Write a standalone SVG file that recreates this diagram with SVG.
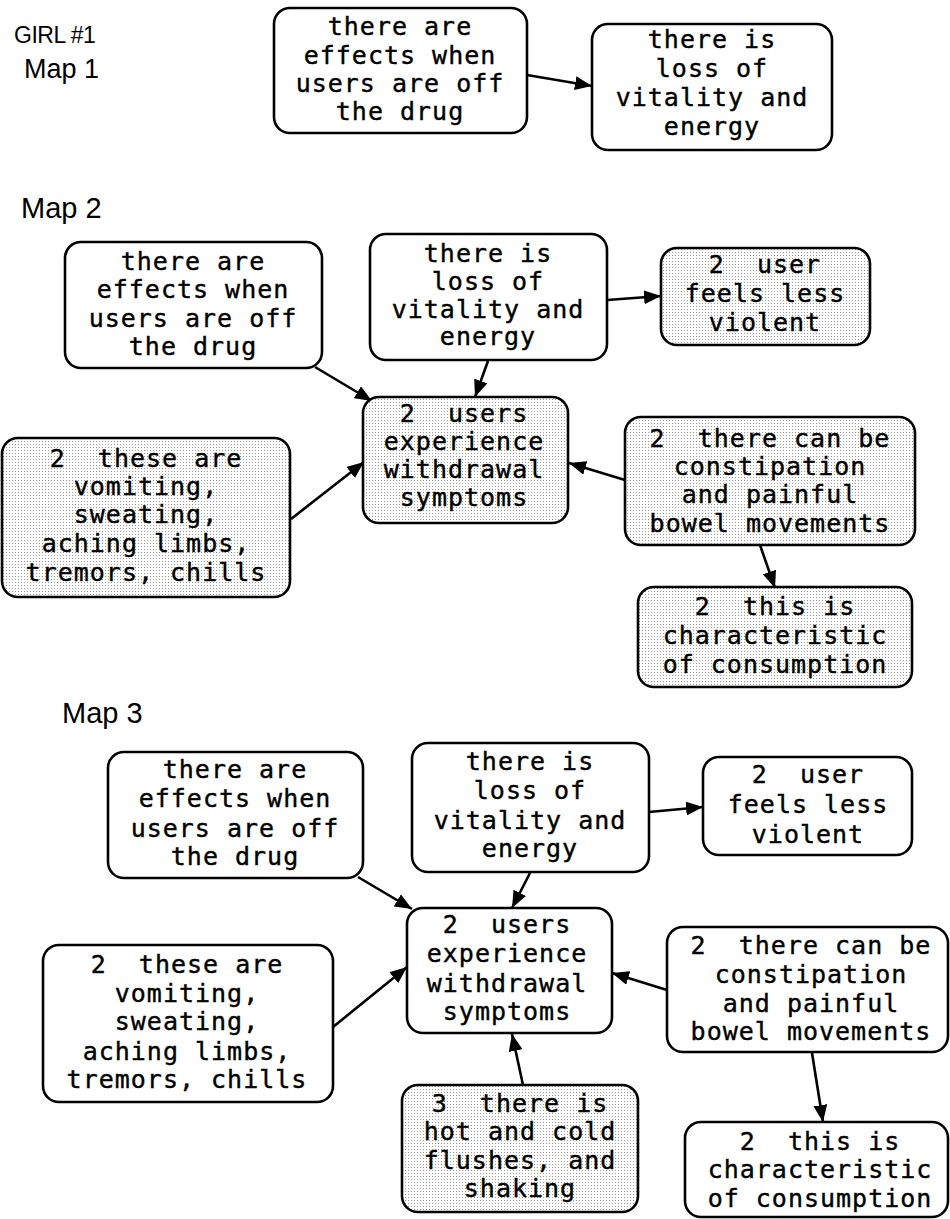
<svg xmlns="http://www.w3.org/2000/svg" width="950" height="1219" viewBox="0 0 950 1219">
  <style>
    .box { fill: #fff; stroke: #000; stroke-width: 2.6; }
    .shade { fill: url(#dots); stroke: #000; stroke-width: 2.6; }
    .t { font-family: "DejaVu Sans Mono", "Liberation Mono", monospace; font-size: 25px; letter-spacing: 1px; text-anchor: middle; fill: #000; stroke: #000; stroke-width: 0.4; white-space: pre; }
    .lbl { font-family: "Liberation Sans", Arial, sans-serif; fill: #000; }
    .edge { stroke: #000; stroke-width: 2.6; fill: none; marker-end: url(#arrow); }
  </style>
  <defs>
    <pattern id="dots" width="3" height="3" patternUnits="userSpaceOnUse">
      <rect width="3" height="3" fill="#fff"/>
      <rect width="1" height="1" fill="#9a9a9a"/>
    </pattern>
    <marker id="arrow" markerUnits="userSpaceOnUse" markerWidth="18" markerHeight="14" refX="17" refY="7" orient="auto">
      <path d="M0,0 L17,7 L0,14 Z" fill="#000"/>
    </marker>
  </defs>
  <rect width="950" height="1219" fill="#fff"/>

  <!-- section labels -->
  <text class="lbl" x="14" y="43" font-size="23" letter-spacing="-0.5">GIRL #1</text>
  <text class="lbl" x="24" y="78" font-size="27">Map 1</text>
  <text class="lbl" x="21" y="218" font-size="29">Map 2</text>
  <text class="lbl" x="62" y="723" font-size="29">Map 3</text>

  <!-- connectors -->
  <g id="connectors">
    <line class="edge" x1="527" y1="75" x2="592" y2="86"/>

    <line class="edge" x1="315" y1="367" x2="372" y2="401"/>
    <line class="edge" x1="291" y1="519" x2="364" y2="462"/>
    <line class="edge" x1="488" y1="361" x2="475" y2="397"/>
    <line class="edge" x1="607" y1="300" x2="661" y2="296"/>
    <line class="edge" x1="625" y1="480" x2="569" y2="463"/>
    <line class="edge" x1="760" y1="545" x2="775" y2="588"/>

    <line class="edge" x1="358" y1="877" x2="412" y2="909"/>
    <line class="edge" x1="649" y1="812" x2="703" y2="807"/>
    <line class="edge" x1="530" y1="873" x2="512" y2="908"/>
    <line class="edge" x1="333" y1="1027" x2="407" y2="967"/>
    <line class="edge" x1="667" y1="990" x2="612" y2="973"/>
    <line class="edge" x1="812" y1="1053" x2="823" y2="1122"/>
    <line class="edge" x1="523" y1="1085" x2="512" y2="1034"/>
  </g>

  <!-- Map 1 -->
  <g id="m1-effects">
    <rect class="box" x="274" y="8" width="253" height="125" rx="16"/>
    <text class="t" x="400" y="35">there are</text>
    <text class="t" x="400" y="64">effects when</text>
    <text class="t" x="400" y="92">users are off</text>
    <text class="t" x="400" y="120">the drug</text>
  </g>
  <g id="m1-loss">
    <rect class="box" x="592" y="24" width="240" height="126" rx="16"/>
    <text class="t" x="712" y="48">there is</text>
    <text class="t" x="712" y="77">loss of</text>
    <text class="t" x="712" y="106">vitality and</text>
    <text class="t" x="712" y="135">energy</text>
  </g>

  <!-- Map 2 -->
  <g id="m2-effects">
    <rect class="box" x="65" y="242" width="257" height="126" rx="16"/>
    <text class="t" x="193" y="270">there are</text>
    <text class="t" x="193" y="298">effects when</text>
    <text class="t" x="193" y="327">users are off</text>
    <text class="t" x="193" y="355">the drug</text>
  </g>
  <g id="m2-loss">
    <rect class="box" x="370" y="234" width="237" height="126" rx="16"/>
    <text class="t" x="488" y="262">there is</text>
    <text class="t" x="488" y="290">loss of</text>
    <text class="t" x="488" y="318">vitality and</text>
    <text class="t" x="488" y="345">energy</text>
  </g>
  <g id="m2-violent">
    <rect class="shade" x="661" y="248" width="209" height="97" rx="16"/>
    <text class="t" x="765" y="273">2  user</text>
    <text class="t" x="765" y="302">feels less</text>
    <text class="t" x="765" y="331">violent</text>
  </g>
  <g id="m2-withdrawal">
    <rect class="shade" x="363" y="397" width="205" height="126" rx="16"/>
    <text class="t" x="464" y="422">2  users</text>
    <text class="t" x="464" y="450">experience</text>
    <text class="t" x="464" y="478">withdrawal</text>
    <text class="t" x="464" y="506">symptoms</text>
  </g>
  <g id="m2-vomiting">
    <rect class="shade" x="2" y="438" width="288" height="159" rx="16"/>
    <text class="t" x="146" y="467">2  these are</text>
    <text class="t" x="146" y="495">vomiting,</text>
    <text class="t" x="146" y="523">sweating,</text>
    <text class="t" x="146" y="552">aching limbs,</text>
    <text class="t" x="146" y="581">tremors, chills</text>
  </g>
  <g id="m2-constipation">
    <rect class="shade" x="625" y="417" width="290" height="128" rx="16"/>
    <text class="t" x="770" y="447">2  there can be</text>
    <text class="t" x="770" y="475">constipation</text>
    <text class="t" x="770" y="503">and painful</text>
    <text class="t" x="770" y="532">bowel movements</text>
  </g>
  <g id="m2-consumption">
    <rect class="shade" x="638" y="587" width="274" height="100" rx="16"/>
    <text class="t" x="775" y="615">2  this is</text>
    <text class="t" x="775" y="644">characteristic</text>
    <text class="t" x="775" y="673">of consumption</text>
  </g>

  <!-- Map 3 -->
  <g id="m3-effects">
    <rect class="box" x="108" y="752" width="255" height="126" rx="16"/>
    <text class="t" x="235" y="778">there are</text>
    <text class="t" x="235" y="807">effects when</text>
    <text class="t" x="235" y="837">users are off</text>
    <text class="t" x="235" y="865">the drug</text>
  </g>
  <g id="m3-loss">
    <rect class="box" x="412" y="743" width="237" height="129" rx="16"/>
    <text class="t" x="530" y="770">there is</text>
    <text class="t" x="530" y="799">loss of</text>
    <text class="t" x="530" y="829">vitality and</text>
    <text class="t" x="530" y="857">energy</text>
  </g>
  <g id="m3-violent">
    <rect class="box" x="703" y="757" width="209" height="98" rx="16"/>
    <text class="t" x="808" y="783">2  user</text>
    <text class="t" x="808" y="813">feels less</text>
    <text class="t" x="808" y="843">violent</text>
  </g>
  <g id="m3-withdrawal">
    <rect class="box" x="407" y="908" width="205" height="125" rx="16"/>
    <text class="t" x="507" y="933">2  users</text>
    <text class="t" x="507" y="962">experience</text>
    <text class="t" x="507" y="992">withdrawal</text>
    <text class="t" x="507" y="1020">symptoms</text>
  </g>
  <g id="m3-vomiting">
    <rect class="box" x="43" y="945" width="290" height="157" rx="16"/>
    <text class="t" x="187" y="973">2  these are</text>
    <text class="t" x="187" y="1002">vomiting,</text>
    <text class="t" x="187" y="1030">sweating,</text>
    <text class="t" x="187" y="1060">aching limbs,</text>
    <text class="t" x="187" y="1088">tremors, chills</text>
  </g>
  <g id="m3-constipation">
    <rect class="box" x="667" y="927" width="281" height="125" rx="16"/>
    <text class="t" x="811" y="954">2  there can be</text>
    <text class="t" x="811" y="983">constipation</text>
    <text class="t" x="811" y="1012">and painful</text>
    <text class="t" x="811" y="1040">bowel movements</text>
  </g>
  <g id="m3-consumption">
    <rect class="box" x="685" y="1122" width="263" height="95" rx="16"/>
    <text class="t" x="820" y="1150">2  this is</text>
    <text class="t" x="820" y="1178">characteristic</text>
    <text class="t" x="820" y="1207">of consumption</text>
  </g>
  <g id="m3-flushes">
    <rect class="shade" x="402" y="1085" width="236" height="127" rx="16"/>
    <text class="t" x="520" y="1112">3  there is</text>
    <text class="t" x="520" y="1140">hot and cold</text>
    <text class="t" x="520" y="1169">flushes, and</text>
    <text class="t" x="520" y="1197">shaking</text>
  </g>
</svg>
